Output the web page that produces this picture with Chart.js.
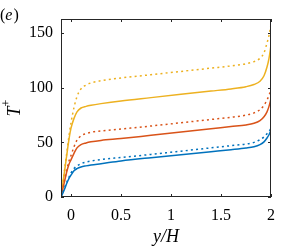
<!DOCTYPE html>
<html>
<head>
<meta charset="utf-8">
<script src="https://cdn.jsdelivr.net/npm/chart.js@4"></script>
<style>
  html, body { margin: 0; padding: 0; background: #fff; }
  #wrap { width: 300px; height: 251px; }
</style>
</head>
<body>
<div id="wrap"><canvas id="chart" width="300" height="251"></canvas></div>
<script>
// wall-normal positions y/H
const yH = [-0.1, -0.07, -0.04, -0.02, 0, 0.03, 0.06, 0.1, 0.15, 0.2, 0.3, 0.5, 0.8, 1.1, 1.4, 1.6, 1.75, 1.83, 1.89, 1.93, 1.96, 1.98, 2.0];

// T+ profiles (solid / dotted pairs)
const blueSolid    = [0, 6, 13, 17, 20, 24, 26, 27.5, 28.5, 29.3, 30.5, 33, 36, 38.8, 41.5, 43.3, 44.8, 46, 48, 50.5, 54, 57, 61];
const blueDotted   = [0, 7, 14, 18, 22, 26, 28.5, 30.5, 32, 33, 34.3, 36.2, 39, 42, 45, 47, 48.5, 50, 52.5, 55, 58, 60, 63];
const orangeSolid  = [0, 12, 24, 30, 34, 40, 45, 48, 49.5, 50.5, 51.8, 53.5, 56.5, 59.5, 62.5, 64.5, 66, 67.5, 70, 73.5, 78, 83, 90];
const orangeDotted = [0, 13, 26, 33, 38, 46, 52, 56, 58, 59.3, 60.5, 62.3, 65, 68, 71, 73, 75, 77, 80, 84, 89, 93, 99];
const yellowSolid  = [0, 20, 40, 53, 63, 72, 78, 81.5, 83, 84, 85.5, 88, 91, 94, 97, 99, 101, 103, 106, 111, 119, 127, 139];
const yellowDotted = [0, 21, 42, 56, 68, 82, 92, 99, 102.5, 104.5, 106.5, 109, 112, 115, 118, 120, 122, 124, 127, 132, 141, 148, 158];

const xTicks = [0, 0.5, 1, 1.5, 2];
const yTicks = [0, 50, 100, 150];

const BLUE = '#0072BD', ORANGE = '#D95319', YELLOW = '#EDB120';
const FONT = '"Liberation Serif", "DejaVu Serif", serif';

function pts(vals) {
  return vals.map((v, i) => ({ x: yH[i], y: v }));
}

function line(vals, color, dotted) {
  return {
    data: pts(vals),
    borderColor: color,
    borderWidth: 1.5,
    borderDash: dotted ? [2, 3.2] : [],
    borderCapStyle: 'butt',
    pointRadius: 0,
    cubicInterpolationMode: 'monotone',
    fill: false
  };
}

// frame, inward ticks, axis titles and panel label
const decor = {
  id: 'decor',
  afterDraw(chart) {
    const { ctx, chartArea: a, scales } = chart;
    ctx.save();
    ctx.strokeStyle = '#262626';
    ctx.lineWidth = 1;
    ctx.strokeRect(a.left + 0.5, a.top + 0.5, a.right - a.left - 1, a.bottom - a.top - 1);
    ctx.beginPath();
    xTicks.forEach(v => {
      const px = Math.round(scales.x.getPixelForValue(v)) + 0.5;
      ctx.moveTo(px, a.bottom); ctx.lineTo(px, a.bottom - 3);
      ctx.moveTo(px, a.top); ctx.lineTo(px, a.top + 3);
    });
    yTicks.forEach(v => {
      const py = Math.round(scales.y.getPixelForValue(v)) + 0.5;
      ctx.moveTo(a.left, py); ctx.lineTo(a.left + 3, py);
      ctx.moveTo(a.right, py); ctx.lineTo(a.right - 3, py);
    });
    ctx.stroke();

    ctx.fillStyle = '#000';
    ctx.textBaseline = 'middle';
    // (e)
    ctx.textAlign = 'left';
    ctx.font = '16px ' + FONT;
    ctx.fillText('(', 0, 16);
    let w = ctx.measureText('(').width;
    ctx.font = 'italic 16px ' + FONT;
    ctx.fillText('e', w, 16);
    w += ctx.measureText('e').width + 1;
    ctx.font = '16px ' + FONT;
    ctx.fillText(')', w, 16);

    // x title
    ctx.textAlign = 'center';
    ctx.font = 'italic 18px ' + FONT;
    ctx.fillText('y/H', (a.left + a.right) / 2, 237);

    // y title T+
    ctx.translate(13, (a.top + a.bottom) / 2);
    ctx.rotate(-Math.PI / 2);
    ctx.textAlign = 'left';
    ctx.font = 'italic 18px ' + FONT;
    const tw = ctx.measureText('T').width;
    ctx.font = '12px ' + FONT;
    const pw = ctx.measureText('+').width;
    const x0 = -(tw + pw) / 2;
    ctx.font = 'italic 18px ' + FONT;
    ctx.fillText('T', x0, 2);
    ctx.font = '12px ' + FONT;
    ctx.fillText('+', x0 + tw, -6);
    ctx.restore();
  }
};

new Chart(document.getElementById('chart'), {
  type: 'line',
  data: {
    datasets: [
      line(blueSolid, BLUE, false),
      line(blueDotted, BLUE, true),
      line(orangeSolid, ORANGE, false),
      line(orangeDotted, ORANGE, true),
      line(yellowSolid, YELLOW, false),
      line(yellowDotted, YELLOW, true)
    ]
  },
  options: {
    responsive: false,
    animation: false,
    layout: { padding: { top: 19, right: 29, left: 0, bottom: 0 } },
    plugins: { legend: { display: false }, tooltip: { enabled: false } },
    scales: {
      x: {
        type: 'linear',
        min: -0.1,
        max: 2,
        grid: { display: false, drawTicks: false },
        border: { display: false },
        afterBuildTicks: s => { s.ticks = xTicks.map(v => ({ value: v })); },
        afterFit: s => { s.height = 54; },
        ticks: {
          color: '#000',
          padding: 9,
          maxRotation: 0,
          font: { family: FONT, size: 16 },
          callback: v => String(v)
        }
      },
      y: {
        type: 'linear',
        min: 0,
        max: 163,
        grid: { display: false, drawTicks: false },
        border: { display: false },
        afterBuildTicks: s => { s.ticks = yTicks.map(v => ({ value: v })); },
        afterFit: s => { s.width = 61; },
        ticks: {
          color: '#000',
          padding: 8,
          font: { family: FONT, size: 16 },
          callback: v => String(v)
        }
      }
    }
  },
  plugins: [decor]
});
</script>
</body>
</html>
